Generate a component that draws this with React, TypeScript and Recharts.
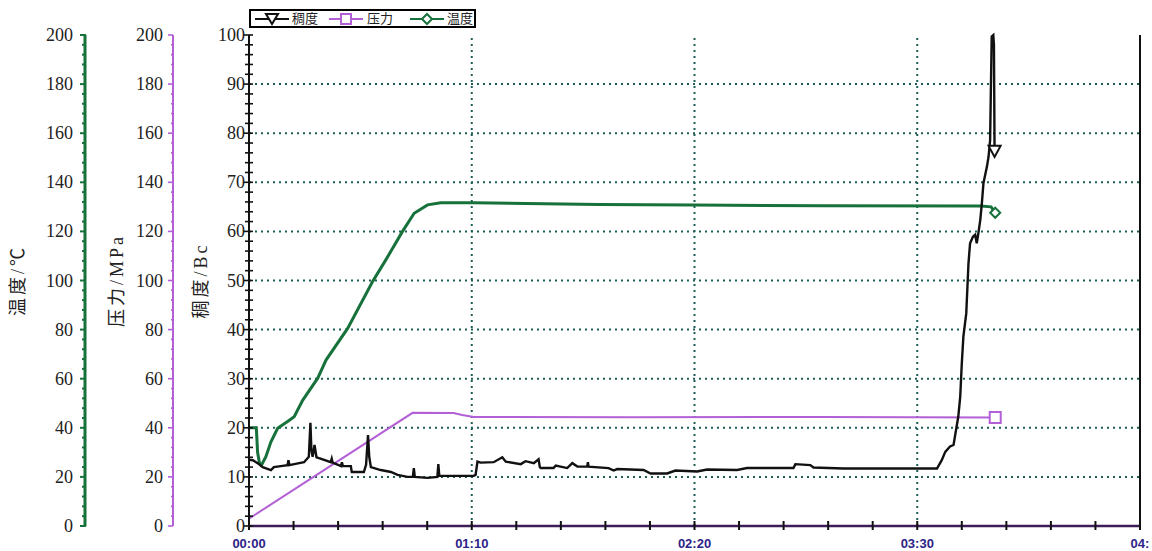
import React from 'react';
import { LineChart, Line, XAxis, YAxis, ReferenceLine, Legend } from 'recharts';

// ---------- data ----------
// 稠度 (Bc) vs time in minutes
const consistencyTime = [
  0, 1.2, 2.7, 4.3, 6.9, 7.8, 10.0, 12.1, 12.4, 12.7, 15.0, 17.3, 18.8, 19.3, 19.6, 20.0, 20.6, 21.2, 22.0,
  25.7, 26.0, 26.3, 28.9, 29.2, 29.5, 32.0, 32.3, 36.1, 36.8, 37.4, 37.8, 38.3, 41.4, 44.6, 46.7, 49.8,
  51.5, 51.8, 52.1, 56.1, 59.2, 59.5, 59.8, 70.6, 71.2, 71.8, 72.8, 76.9, 79.6, 80.7, 85.4, 86.9, 89.5,
  91.0, 91.4, 91.7, 95.7, 96.4, 100.0, 101.6, 103.2, 106.3, 106.5, 106.7, 113.0, 114.6, 115.7, 124.0,
  126.2, 131.4, 134.0, 140.8, 144.0, 153.4, 156.5, 171.1, 171.7, 176.4, 177.4, 186.8, 216.2, 217.7,
  218.8, 220.3, 221.4, 222.2, 222.9, 223.5, 224.0, 224.5, 225.4, 226.1, 226.6, 227.5, 228.2, 228.7,
  229.2, 229.8, 230.3, 230.8, 231.9, 232.4, 232.9, 233.1, 233.4, 233.9, 234.1, 234.3,
];
const consistencyBc = [
  13.5, 13.4, 12.8, 12.0, 11.4, 12.0, 12.2, 12.4, 13.4, 12.4, 12.7, 13.0, 14.1, 21.0, 15.5, 14.1, 16.5, 14.0, 13.8,
  13.0, 13.7, 12.9, 12.2, 13.0, 12.2, 12.2, 11.0, 11.0, 12.5, 18.5, 14.0, 12.0, 11.4, 11.0, 10.4, 10.0,
  10.0, 11.8, 10.0, 9.8, 10.0, 12.6, 10.2, 10.2, 10.4, 13.1, 12.9, 13.0, 14.0, 13.1, 12.6, 13.2, 12.8,
  13.6, 12.0, 11.8, 11.8, 12.3, 11.8, 12.8, 12.1, 12.1, 13.0, 12.1, 11.8, 11.3, 11.6, 11.4,
  10.7, 10.7, 11.3, 11.1, 11.5, 11.4, 11.8, 11.8, 12.6, 12.4, 11.9, 11.7, 11.7, 13.4,
  15.1, 16.2, 16.5, 19.6, 22.3, 26.3, 33.1, 38.6, 43.3, 53.5, 57.6, 58.9, 59.3, 57.6,
  59.6, 62.3, 65.7, 69.8, 73.2, 75.2, 78.6, 87.4, 99.7, 100, 98, 76.2,
];

// 压力 (MPa)
const pressureTime = [0, 51.4, 64.3, 67.0, 70.6, 120, 180, 234.5];
const pressureMPa = [3.0, 46.1, 46.0, 45.2, 44.4, 44.3, 44.4, 44.2];

// 温度 (°C)
const temperatureTime = [
  0, 2.3, 2.7, 3.3, 4.0, 5.3, 6.9, 9.0, 12.0, 14.2, 16.9, 21.6, 24.2, 31.0, 38.8, 43.0, 48.2, 51.9,
  56.1, 60.3, 70.7, 110, 140, 180, 230, 233.2, 234.5,
];
const temperatureC = [
  40, 40, 30, 25.5, 25, 28.2, 34.3, 39.8, 42.5, 44.5, 51.3, 60.2, 67.6, 80.5, 99.5, 108.4, 119.9, 127.4,
  130.8, 131.7, 131.7, 131.0, 130.8, 130.4, 130.3, 130.0, 127.6,
];

// ---------- ticks ----------
const xLabelMinutes = [0, 70, 140, 210, 280];
const xLabels = ['00:00', '01:10', '02:20', '03:30', '04:'];
const xMinorStep = 14;
const xTicks = Array.from({ length: 280 / xMinorStep + 1 }, (_, i) => i * xMinorStep);

const bcMajor = [0, 10, 20, 30, 40, 50, 60, 70, 80, 90, 100];
const bcTicks = Array.from({ length: 51 }, (_, i) => i * 2);
const sideMajor = [0, 20, 40, 60, 80, 100, 120, 140, 160, 180, 200];
const sideTicks = Array.from({ length: 51 }, (_, i) => i * 4);

const gridBc = [10, 20, 30, 40, 50, 60, 70, 80, 90];
const gridMinutes = [70, 140, 210];

const consistencyData = consistencyTime.map((t, i) => ({ t, v: consistencyBc[i] }));
const pressureData = pressureTime.map((t, i) => ({ t, v: pressureMPa[i] }));
const temperatureData = temperatureTime.map((t, i) => ({ t, v: temperatureC[i] }));

// ---------- colours ----------
const BLACK = '#111111';
const PURPLE = '#b35fd6';
const GREEN = '#17713a';
const GRID = '#1f5e57';
const XLABEL = '#2d2288';

const serif = '"Liberation Serif", "DejaVu Serif", serif';
const titleFont = '"Liberation Serif", "Noto Sans CJK SC", serif';
const cjk = '"Noto Sans CJK SC", sans-serif';

// ---------- custom ticks ----------
const makeYTick = (major: number[], color: string, majorLen: number, minorLen: number, rightLen: number, gap: number, sw: number) =>
  (props: any) => {
    const { x, y, payload } = props;
    const v = payload.value;
    const isMajor = major.includes(v);
    return (
      <g>
        <line x1={x - (isMajor ? majorLen : minorLen)} x2={x + rightLen} y1={y} y2={y} stroke={color} strokeWidth={sw} />
        {isMajor && (
          <text x={x - gap} y={y} textAnchor="end" dominantBaseline="central" fontFamily={serif} fontSize={18} fill="#222">
            {v}
          </text>
        )}
      </g>
    );
  };

const XTick = (props: any) => {
  const { x, y, payload } = props;
  const v = payload.value;
  const idx = xLabelMinutes.indexOf(v);
  return (
    <g>
      <line x1={x} x2={x} y1={y - 5} y2={y + 4} stroke={BLACK} strokeWidth={2} />
      {idx >= 0 && (
        <text x={x} y={y + 17} textAnchor="middle" dominantBaseline="central" fontFamily='"Liberation Sans", Arial, sans-serif' fontWeight="bold" fontSize={13} fill={XLABEL}>
          {xLabels[idx]}
        </text>
      )}
    </g>
  );
};

const TopTick = (props: any) => {
  const { x, y } = props;
  return <line x1={x} x2={x} y1={y} y2={y + 3} stroke={BLACK} strokeWidth={2} />;
};

const axisTitle = (text: string, xPos: number) => (props: any) => {
  const vb = props.viewBox || {};
  const cy = (vb.y || 35) + (vb.height || 491) / 2;
  return (
    <text x={xPos} y={cy} transform={`rotate(-90, ${xPos}, ${cy})`} textAnchor="middle" dominantBaseline="central" fontFamily={titleFont} fontSize={18} letterSpacing={3} fill="#222">
      {text}
    </text>
  );
};

const endMarker = (kind: string, color: string, n: number) => (props: any) => {
  const { cx, cy, index } = props;
  if (index !== n - 1 || cx == null) return <g key={`m-${kind}-${index}`} />;
  if (kind === 'tri') {
    return <polygon key="tri" points={`${cx - 6},${cy - 6} ${cx + 6},${cy - 6} ${cx},${cy + 5}`} fill="#fff" stroke={color} strokeWidth={2} />;
  }
  if (kind === 'sq') {
    return <rect key="sq" x={cx - 5.5} y={cy - 5.5} width={11} height={11} fill="#fff" stroke={color} strokeWidth={2} />;
  }
  return <polygon key="dia" points={`${cx},${cy - 5} ${cx + 5},${cy} ${cx},${cy + 5} ${cx - 5},${cy}`} fill="#fff" stroke={color} strokeWidth={2} />;
};

const LegendIcon = ({ color, kind }: { color: string; kind: string }) => (
  <svg width={34} height={14} style={{ display: 'block' }}>
    <line x1={0} x2={34} y1={7} y2={7} stroke={color} strokeWidth={2} />
    {kind === 'tri' && <polygon points="11,2 23,2 17,12" fill="#fff" stroke={color} strokeWidth={2} />}
    {kind === 'sq' && <rect x={12} y={2} width={10} height={10} fill="#fff" stroke={color} strokeWidth={2} />}
    {kind === 'dia' && <polygon points="17,2 22,7 17,12 12,7" fill="#fff" stroke={color} strokeWidth={2} />}
  </svg>
);

const legendItems = [
  { name: '稠度', color: BLACK, kind: 'tri', icon: 4, text: 41 },
  { name: '压力', color: PURPLE, kind: 'sq', icon: 78, text: 116 },
  { name: '温度', color: GREEN, kind: 'dia', icon: 159, text: 196 },
];

const renderLegend = () => (
  <div style={{ position: 'relative', width: 227, height: 19, border: '2px solid #000', boxSizing: 'border-box', background: '#fff' }}>
    {legendItems.map((it) => (
      <React.Fragment key={it.name}>
        <div style={{ position: 'absolute', left: it.icon, top: 1 }}>
          <LegendIcon color={it.color} kind={it.kind} />
        </div>
        <div style={{ position: 'absolute', left: it.text, top: -2, fontFamily: cjk, fontSize: 13, color: '#222', lineHeight: '18px', whiteSpace: 'nowrap' }}>
          {it.name}
        </div>
      </React.Fragment>
    ))}
  </div>
);

export default function App() {
  return (
    <div style={{ position: 'absolute', left: 0, top: 0, width: 1152, height: 551, background: '#fff' }}>
      <LineChart width={1152} height={551} margin={{ top: 35, right: 12, bottom: 0, left: 0 }}>
        <XAxis
          dataKey="t"
          type="number"
          domain={[0, 280]}
          ticks={xTicks}
          interval={0}
          height={25}
          tickSize={0}
          tickMargin={0}
          tick={<XTick />}
          axisLine={{ stroke: '#3c1d58', strokeWidth: 2.5 }}
          allowDataOverflow
        />
        <XAxis
          xAxisId="top"
          orientation="top"
          dataKey="t"
          type="number"
          domain={[0, 280]}
          ticks={xTicks}
          interval={0}
          height={0}
          tickSize={0}
          tickMargin={0}
          tick={<TopTick />}
          axisLine={{ stroke: BLACK, strokeWidth: 2.5 }}
        />
        <YAxis
          yAxisId="bc"
          type="number"
          domain={[0, 100]}
          ticks={bcTicks}
          interval={0}
          width={76}
          tickSize={0}
          tickMargin={0}
          tick={makeYTick(bcMajor, BLACK, 6, 4, 4, 4, 1.6)}
          axisLine={{ stroke: BLACK, strokeWidth: 2 }}
          label={axisTitle('稠度/Bc', 201)}
        />
        <YAxis
          yAxisId="press"
          type="number"
          domain={[0, 200]}
          ticks={sideTicks}
          interval={0}
          width={88}
          tickSize={0}
          tickMargin={0}
          tick={makeYTick(sideMajor, PURPLE, 5, 2, 0, 10, 1.6)}
          axisLine={{ stroke: PURPLE, strokeWidth: 2 }}
          label={axisTitle('压力/MPa', 117)}
        />
        <YAxis
          yAxisId="temp"
          type="number"
          domain={[0, 200]}
          ticks={sideTicks}
          interval={0}
          width={85}
          tickSize={0}
          tickMargin={0}
          tick={makeYTick(sideMajor, GREEN, 5, 3, 1, 12, 2)}
          axisLine={{ stroke: GREEN, strokeWidth: 3 }}
          label={axisTitle('温度/℃', 18)}
        />
        {gridBc.map((v) => (
          <ReferenceLine key={`gy${v}`} yAxisId="bc" y={v} stroke={GRID} strokeWidth={2} strokeDasharray="2 4" />
        ))}
        {gridMinutes.map((v) => (
          <ReferenceLine key={`gx${v}`} yAxisId="bc" x={v} stroke={GRID} strokeWidth={2} strokeDasharray="2 4" />
        ))}
        <ReferenceLine yAxisId="bc" x={280} stroke={BLACK} strokeWidth={2} />
        <Legend
          content={renderLegend}
          layout="horizontal"
          align="center"
          verticalAlign="middle"
          wrapperStyle={{ top: 9, left: 249, width: 227, height: 19 }}
        />
        <Line
          data={pressureData}
          dataKey="v"
          yAxisId="press"
          type="linear"
          stroke={PURPLE}
          strokeWidth={2}
          dot={endMarker('sq', PURPLE, pressureData.length)}
          activeDot={false}
          isAnimationActive={false}
        />
        <Line
          data={temperatureData}
          dataKey="v"
          yAxisId="temp"
          type="linear"
          stroke={GREEN}
          strokeWidth={3}
          dot={endMarker('dia', GREEN, temperatureData.length)}
          activeDot={false}
          isAnimationActive={false}
        />
        <Line
          data={consistencyData}
          dataKey="v"
          yAxisId="bc"
          type="linear"
          stroke={BLACK}
          strokeWidth={2.4}
          dot={endMarker('tri', BLACK, consistencyData.length)}
          activeDot={false}
          isAnimationActive={false}
        />
      </LineChart>
    </div>
  );
}
